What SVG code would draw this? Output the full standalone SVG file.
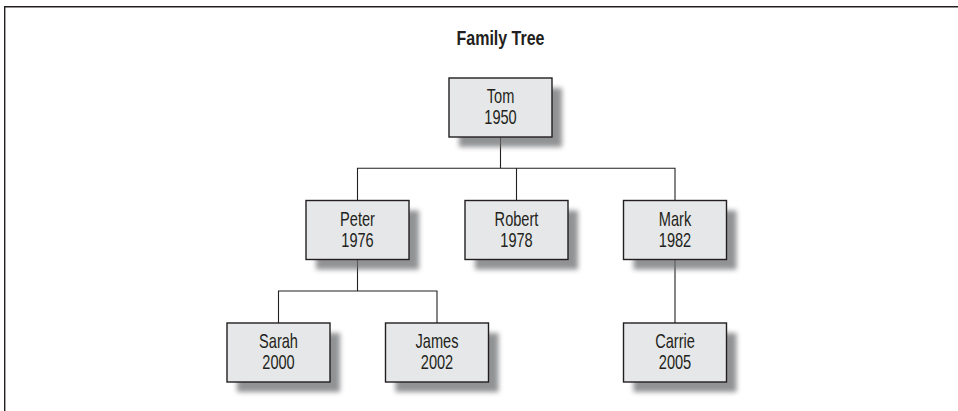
<svg xmlns="http://www.w3.org/2000/svg" width="958" height="411" viewBox="0 0 958 411">
  <style>
    .box { fill: #e6e7e8; stroke: #231f20; stroke-width: 1.4; }
    .shadow { fill: #6d6e71; filter: url(#blur); opacity: 0.75; }
    .conn { fill: none; stroke: #231f20; stroke-width: 1.1; }
    .lbl { font-family: "Liberation Sans", Arial, sans-serif; font-size: 20px; fill: #231f20; text-anchor: middle; }
    .title { font-family: "Liberation Sans", Arial, sans-serif; font-size: 20px; font-weight: bold; fill: #231f20; text-anchor: middle; }
  </style>
  <defs>
    <filter id="blur" x="-20%" y="-20%" width="140%" height="140%">
      <feGaussianBlur stdDeviation="2.5"/>
    </filter>
  </defs>
  <rect x="0" y="0" width="958" height="411" fill="#ffffff"/>
  <path d="M4.7,411 V6.7 H958" fill="none" stroke="#231f20" stroke-width="1.4"/>
  <text class="title" transform="translate(500.5,45) scale(0.8,1)">Family Tree</text>

  <g id="connectors">
    <path class="conn" d="M500.5,137 V168.3 M357.5,200.5 V168.3 H675 V200.5 M516.5,168.3 V200.5"/>
    <path class="conn" d="M357.5,259.5 V291 M278.5,323 V291 H437 V323"/>
    <path class="conn" d="M675,259.5 V323"/>
  </g>

  <g id="tom">
    <rect class="shadow" x="459" y="88" width="103" height="59"/>
    <rect class="box" x="449" y="78" width="103" height="59"/>
    <text class="lbl" transform="translate(500.5,103.3) scale(0.73,1)">Tom</text>
    <text class="lbl" transform="translate(500.5,124.2) scale(0.73,1)">1950</text>
  </g>
  <g id="peter">
    <rect class="shadow" x="316" y="210.5" width="103" height="59"/>
    <rect class="box" x="306" y="200.5" width="103" height="59"/>
    <text class="lbl" transform="translate(357.5,225.7) scale(0.73,1)">Peter</text>
    <text class="lbl" transform="translate(357.5,246.7) scale(0.73,1)">1976</text>
  </g>
  <g id="robert">
    <rect class="shadow" x="475" y="210.5" width="103" height="59"/>
    <rect class="box" x="465" y="200.5" width="103" height="59"/>
    <text class="lbl" transform="translate(516.5,225.7) scale(0.73,1)">Robert</text>
    <text class="lbl" transform="translate(516.5,246.7) scale(0.73,1)">1978</text>
  </g>
  <g id="mark">
    <rect class="shadow" x="633.5" y="210.5" width="103" height="59"/>
    <rect class="box" x="623.5" y="200.5" width="103" height="59"/>
    <text class="lbl" transform="translate(675,225.7) scale(0.73,1)">Mark</text>
    <text class="lbl" transform="translate(675,246.7) scale(0.73,1)">1982</text>
  </g>
  <g id="sarah">
    <rect class="shadow" x="237" y="333" width="103" height="59"/>
    <rect class="box" x="227" y="323" width="103" height="59"/>
    <text class="lbl" transform="translate(278.5,348.2) scale(0.73,1)">Sarah</text>
    <text class="lbl" transform="translate(278.5,369.2) scale(0.73,1)">2000</text>
  </g>
  <g id="james">
    <rect class="shadow" x="395.5" y="333" width="103" height="59"/>
    <rect class="box" x="385.5" y="323" width="103" height="59"/>
    <text class="lbl" transform="translate(437,348.2) scale(0.73,1)">James</text>
    <text class="lbl" transform="translate(437,369.2) scale(0.73,1)">2002</text>
  </g>
  <g id="carrie">
    <rect class="shadow" x="633.5" y="333" width="103" height="59"/>
    <rect class="box" x="623.5" y="323" width="103" height="59"/>
    <text class="lbl" transform="translate(675,348.2) scale(0.73,1)">Carrie</text>
    <text class="lbl" transform="translate(675,369.2) scale(0.73,1)">2005</text>
  </g>
</svg>
